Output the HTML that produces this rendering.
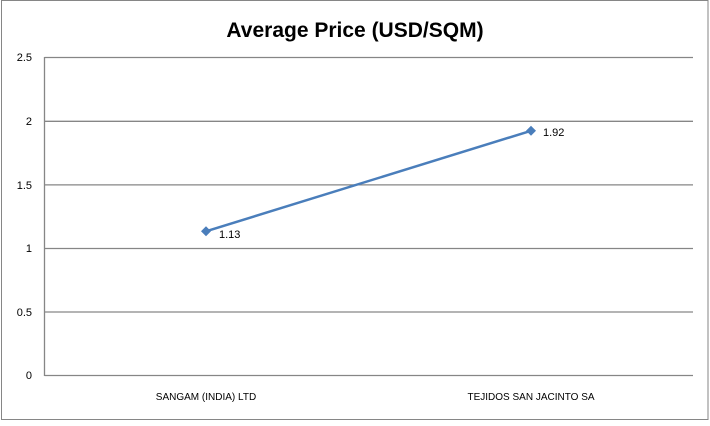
<!DOCTYPE html>
<html><head><style>body{margin:0;background:#fff}</style></head><body>
<svg width="710" height="421" xmlns="http://www.w3.org/2000/svg" font-family="Liberation Sans, sans-serif">
<rect x="1.5" y="0.5" width="706.5" height="419" fill="#fff" stroke="#868686"/>
<text x="355" y="37" font-size="21" font-weight="bold" text-anchor="middle" fill="#000">Average Price (USD/SQM)</text>
<g stroke="#868686" stroke-width="1.3">
<line x1="44.5" y1="57.5" x2="693" y2="57.5"/>
<line x1="44.5" y1="121.3" x2="693" y2="121.3"/>
<line x1="44.5" y1="184.9" x2="693" y2="184.9"/>
<line x1="44.5" y1="248.5" x2="693" y2="248.5"/>
<line x1="44.5" y1="312" x2="693" y2="312"/>
<line x1="44.5" y1="375.5" x2="693" y2="375.5"/>
<line x1="44.5" y1="57" x2="44.5" y2="376"/>
</g>
<g font-size="11" text-anchor="end" fill="#000">
<text x="32" y="61">2.5</text><text x="32" y="125">2</text><text x="32" y="189">1.5</text>
<text x="32" y="252">1</text><text x="32" y="316">0.5</text><text x="32" y="379">0</text>
</g>
<g font-size="10" text-anchor="middle" fill="#000">
<text x="206" y="400">SANGAM (INDIA) LTD</text>
<text x="531" y="400">TEJIDOS SAN JACINTO SA</text>
</g>
<line x1="206" y1="231.3" x2="531" y2="130.8" stroke="#4a7ebb" stroke-width="2.5"/>
<polygon points="206,226.3 211,231.3 206,236.3 201,231.3" fill="#4a7ebb"/>
<polygon points="531,125.8 536,130.8 531,135.8 526,130.8" fill="#4a7ebb"/>
<text x="219" y="238" font-size="11">1.13</text>
<text x="543" y="136" font-size="11">1.92</text>
</svg>
</body></html>
